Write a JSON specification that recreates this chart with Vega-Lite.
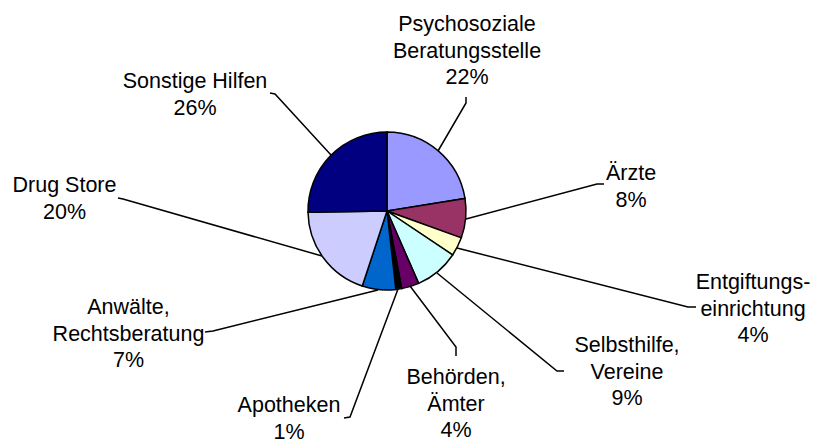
{
  "$schema": "https://vega.github.io/schema/vega-lite/v6.json",
  "autosize": {"type": "none"},
  "width": 774,
  "height": 422,
  "padding": {"left": 0, "top": 0, "right": 43, "bottom": 20},
  "background": "white",
  "config": {"view": {"stroke": null}},
  "datasets": {
    "slices": [
      {"idx": 1, "name": "Psychosoziale Beratungsstelle", "value": 22.6, "label": "Psychosoziale\nBeratungsstelle\n22%", "lx": 80, "ly": 186},
      {"idx": 2, "name": "Ärzte", "value": 8.1, "label": "Ärzte\n8%", "lx": 244, "ly": 37},
      {"idx": 3, "name": "Entgiftungseinrichtung", "value": 3.9, "label": "Entgiftungs-\neinrichtung\n4%", "lx": 366, "ly": -72},
      {"idx": 4, "name": "Selbsthilfe, Vereine", "value": 9.1, "label": "Selbsthilfe,\nVereine\n9%", "lx": 240, "ly": -135},
      {"idx": 5, "name": "Behörden, Ämter", "value": 3.6, "label": "Behörden,\nÄmter\n4%", "lx": 69, "ly": -167},
      {"idx": 6, "name": "Apotheken", "value": 1.2, "label": "Apotheken\n1%", "lx": -98, "ly": -195},
      {"idx": 7, "name": "Anwälte, Rechtsberatung", "value": 6.9, "label": "Anwälte,\nRechtsberatung\n7%", "lx": -258.5, "ly": -97},
      {"idx": 8, "name": "Drug Store", "value": 19.8, "label": "Drug Store\n20%", "lx": -322.5, "ly": 25},
      {"idx": 9, "name": "Sonstige Hilfen", "value": 25.4, "label": "Sonstige Hilfen\n26%", "lx": -192, "ly": 129}
    ],
    "leaders": [
      {"name": "Psychosoziale Beratungsstelle", "seq": 1, "x": 51, "y": 60},
      {"name": "Psychosoziale Beratungsstelle", "seq": 2, "x": 79, "y": 108},
      {"name": "Psychosoziale Beratungsstelle", "seq": 3, "x": 79, "y": 114},
      {"name": "Ärzte", "seq": 1, "x": 79, "y": -8},
      {"name": "Ärzte", "seq": 2, "x": 210, "y": 27},
      {"name": "Ärzte", "seq": 3, "x": 217, "y": 27},
      {"name": "Entgiftungseinrichtung", "seq": 1, "x": 70, "y": -37},
      {"name": "Entgiftungseinrichtung", "seq": 2, "x": 301, "y": -96},
      {"name": "Entgiftungseinrichtung", "seq": 3, "x": 309, "y": -96},
      {"name": "Selbsthilfe, Vereine", "seq": 1, "x": 50, "y": -62},
      {"name": "Selbsthilfe, Vereine", "seq": 2, "x": 170, "y": -160},
      {"name": "Selbsthilfe, Vereine", "seq": 3, "x": 177, "y": -160},
      {"name": "Behörden, Ämter", "seq": 1, "x": 23, "y": -75},
      {"name": "Behörden, Ämter", "seq": 2, "x": 69, "y": -136},
      {"name": "Behörden, Ämter", "seq": 3, "x": 69, "y": -145},
      {"name": "Apotheken", "seq": 1, "x": 11, "y": -78},
      {"name": "Apotheken", "seq": 2, "x": -37, "y": -206},
      {"name": "Apotheken", "seq": 3, "x": -43, "y": -207},
      {"name": "Anwälte, Rechtsberatung", "seq": 1, "x": -9, "y": -79},
      {"name": "Anwälte, Rechtsberatung", "seq": 2, "x": -174, "y": -120},
      {"name": "Anwälte, Rechtsberatung", "seq": 3, "x": -182, "y": -121},
      {"name": "Drug Store", "seq": 1, "x": -65, "y": -45},
      {"name": "Drug Store", "seq": 2, "x": -264, "y": 12},
      {"name": "Drug Store", "seq": 3, "x": -269, "y": 13},
      {"name": "Sonstige Hilfen", "seq": 1, "x": -56, "y": 56},
      {"name": "Sonstige Hilfen", "seq": 2, "x": -112, "y": 117},
      {"name": "Sonstige Hilfen", "seq": 3, "x": -117, "y": 118}
    ]
  },
  "layer": [
    {
      "data": {"name": "leaders"},
      "mark": {"type": "line", "color": "black", "strokeWidth": 1.5},
      "encoding": {
        "x": {"field": "x", "type": "quantitative", "scale": {"domain": [-387, 387], "nice": false, "zero": false}, "axis": null},
        "y": {"field": "y", "type": "quantitative", "scale": {"domain": [-211, 211], "nice": false, "zero": false}, "axis": null},
        "detail": {"field": "name"},
        "order": {"field": "seq"}
      }
    },
    {
      "data": {"name": "slices"},
      "mark": {"type": "arc", "outerRadius": 79, "stroke": "black", "strokeWidth": 1.5},
      "encoding": {
        "theta": {"field": "value", "type": "quantitative", "stack": true},
        "order": {"field": "idx"},
        "color": {
          "field": "name", "type": "nominal", "legend": null,
          "scale": {
            "domain": ["Psychosoziale Beratungsstelle", "Ärzte", "Entgiftungseinrichtung", "Selbsthilfe, Vereine", "Behörden, Ämter", "Apotheken", "Anwälte, Rechtsberatung", "Drug Store", "Sonstige Hilfen"],
            "range": ["#9999FF", "#993366", "#FFFFCC", "#CCFFFF", "#660066", "#000000", "#0066CC", "#CCCCFF", "#000080"]
          }
        }
      }
    },
    {
      "data": {"name": "slices"},
      "mark": {"type": "text", "font": "Liberation Sans", "fontSize": 21.5, "lineBreak": "\n", "lineHeight": 26.5, "align": "center", "baseline": "middle", "color": "black"},
      "encoding": {
        "x": {"field": "lx", "type": "quantitative", "scale": {"domain": [-387, 387], "nice": false, "zero": false}, "axis": null},
        "y": {"field": "ly", "type": "quantitative", "scale": {"domain": [-211, 211], "nice": false, "zero": false}, "axis": null},
        "text": {"field": "label", "type": "nominal"}
      }
    }
  ]
}
